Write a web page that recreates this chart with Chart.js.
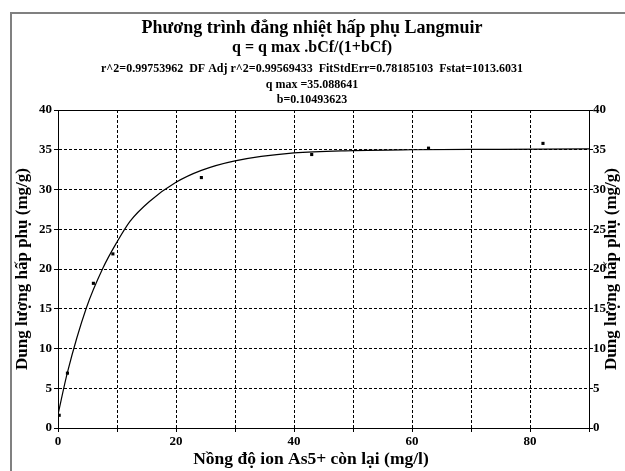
<!DOCTYPE html>
<html>
<head>
<meta charset="utf-8">
<script src="https://cdn.jsdelivr.net/npm/chart.js@4/dist/chart.umd.min.js"></script>
<style>
  body { margin: 0; background: #fff; }
  canvas { display: block; }
</style>
</head>
<body>
<canvas id="langmuirChart" width="625" height="471"></canvas>
<script>
// Số liệu
const concentration = [0.2, 1.6, 6.0, 9.3, 24.3, 43.0, 62.8, 82.2];
const capacity = [1.6, 6.9, 18.2, 21.9, 31.5, 34.4, 35.2, 35.8];

// Đường fit (đọc theo đường cong trên hình)
const fitX = [0, 1.6, 4.8, 7.6, 10, 12.2, 15.5, 20, 24.3, 30, 40, 50, 60, 75, 90];
const fitY = [1.7, 7.0, 15.1, 20.1, 23.4, 26.0, 28.5, 30.9, 32.4, 33.6, 34.6, 34.9, 35.0, 35.05, 35.1];

const xTicks = [0, 20, 40, 60, 80];

const titleLines = [
    { text: 'Phương trình đẳng nhiệt hấp phụ Langmuir', size: 18, y: 33 },
    { text: 'q = q max .bCf/(1+bCf)', size: 16, y: 52 },
    { text: 'r^2=0.99753962  DF Adj r^2=0.99569433  FitStdErr=0.78185103  Fstat=1013.6031', size: 12, y: 72 },
    { text: 'q max =35.088641', size: 12, y: 88 },
    { text: 'b=0.10493623', size: 12, y: 103 }
];
const yTitle = 'Dung lượng hấp phụ (mg/g)';
const xTitle = 'Nồng độ ion As5+ còn lại (mg/l)';

Chart.defaults.font.family = '"Liberation Serif", "Times New Roman", serif';
Chart.defaults.color = '#000';

const decorations = {
    id: 'decorations',
    beforeDraw(chart) {
        const ctx = chart.ctx;
        ctx.save();
        ctx.fillStyle = '#fff';
        ctx.fillRect(0, 0, chart.width, chart.height);
        ctx.strokeStyle = '#808080';
        ctx.lineWidth = 2;
        ctx.beginPath();
        ctx.moveTo(11, chart.height);
        ctx.lineTo(11, 13);
        ctx.lineTo(chart.width, 13);
        ctx.stroke();
        ctx.restore();
    },
    afterDraw(chart) {
        const ctx = chart.ctx;
        const area = chart.chartArea;
        ctx.save();
        // khung vùng vẽ
        ctx.strokeStyle = '#000';
        ctx.lineWidth = 1;
        ctx.strokeRect(area.left + 0.5, area.top + 0.5, area.right - area.left, area.bottom - area.top);

        ctx.fillStyle = '#000';
        ctx.textAlign = 'center';
        ctx.textBaseline = 'alphabetic';
        titleLines.forEach(l => {
            ctx.font = `bold ${l.size}px "Liberation Serif"`;
            ctx.fillText(l.text, 312, l.y);
        });

        // tiêu đề trục hoành
        ctx.font = 'bold 17.5px "Liberation Serif"';
        ctx.fillText(xTitle, 311, 464);

        // tiêu đề trục phải
        ctx.translate(612, (area.top + area.bottom) / 2);
        ctx.rotate(-Math.PI / 2);
        ctx.font = 'bold 17px "Liberation Serif"';
        ctx.textBaseline = 'middle';
        ctx.fillText(yTitle, 0, 0);
        ctx.restore();
    }
};

const yScale = (position, width) => ({
    type: 'linear',
    position: position,
    min: 0,
    max: 40,
    ticks: { stepSize: 5, font: { size: 13, weight: 'bold' }, padding: position === 'left' ? 2 : 0 },
    grid: { color: '#000', lineWidth: 1, tickLength: 4, tickBorderDash: [], drawOnChartArea: position === 'left' },
    border: { color: '#000', width: 1, dash: [3, 2] },
    afterFit: s => { s.width = width; }
});

new Chart(document.getElementById('langmuirChart'), {
    type: 'scatter',
    data: {
        datasets: [
            {
                label: 'fit',
                data: fitX.map((x, i) => ({ x: x, y: fitY[i] })),
                showLine: true,
                borderColor: '#000',
                borderWidth: 1.2,
                pointRadius: 0,
                cubicInterpolationMode: 'monotone',
                yAxisID: 'y'
            },
            {
                label: 'data',
                data: concentration.map((x, i) => ({ x: x, y: capacity[i] })),
                pointStyle: 'rect',
                pointRadius: 2.2,
                backgroundColor: '#000',
                borderColor: '#000',
                borderWidth: 0,
                yAxisID: 'y'
            }
        ]
    },
    options: {
        responsive: false,
        animation: false,
        devicePixelRatio: 1,
        layout: { padding: { top: 110, left: 0, right: 0, bottom: 0 } },
        plugins: { legend: { display: false }, tooltip: { enabled: false } },
        scales: {
            x: {
                type: 'linear',
                min: 0,
                max: 90,
                ticks: {
                    stepSize: 10,
                    autoSkip: false,
                    maxRotation: 0,
                    padding: 2,
                    font: { size: 13, weight: 'bold' },
                    callback: v => xTicks.includes(v) ? v : ''
                },
                grid: { color: '#000', lineWidth: 1, tickLength: 4, tickBorderDash: [] },
                border: { color: '#000', width: 1, dash: [3, 2] },
                afterFit: s => { s.height = 43; }
            },
            y: Object.assign(yScale('left', 58), {
                title: { display: true, text: yTitle, font: { size: 17, weight: 'bold' }, padding: { top: 12, bottom: 0 } }
            }),
            y2: yScale('right', 36)
        }
    },
    plugins: [decorations]
});
</script>
</body>
</html>
